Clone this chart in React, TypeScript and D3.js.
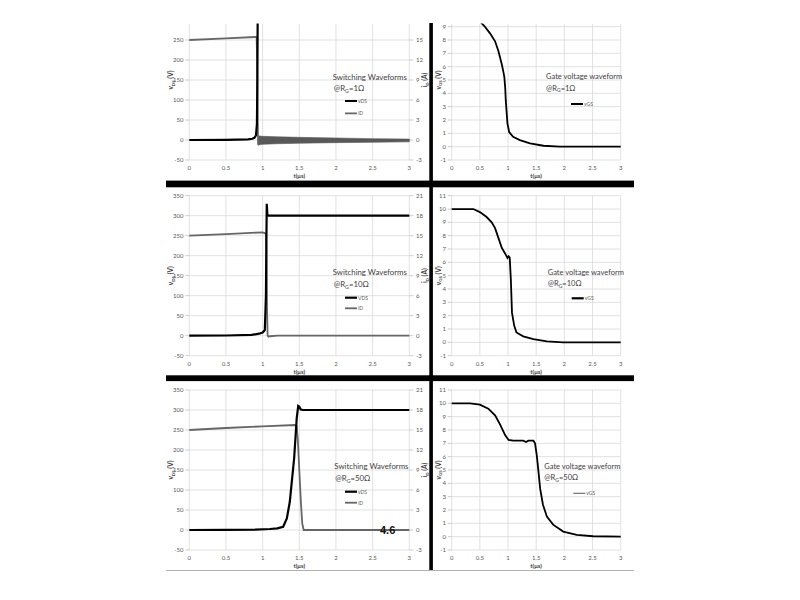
import React from 'react';
import * as d3 from 'd3';

type Pt = [number, number];

// time axis ticks (µs) and value ticks
const tTicks = [0, 0.5, 1, 1.5, 2, 2.5, 3];
const vdsTicks = [-50, 0, 50, 100, 150, 200, 250, 300, 350];
const idTicks = [-3, 0, 3, 6, 9, 12, 15, 18, 21];
const vgsTicks = [-1, 0, 1, 2, 3, 4, 5, 6, 7, 8, 9, 10, 11];

// R = 1 ohm
const vds1: Pt[] = [[0, 0], [0.5, 0.5], [0.8, 1.5], [0.86, 3], [0.89, 6], [0.91, 12], [0.922, 40], [0.928, 150], [0.933, 330], [0.94, 330], [1.0, 300], [3, 300]];
const id1: Pt[] = [[0, 15], [0.5, 15.25], [0.9, 15.45], [0.918, 15.5], [0.925, 12], [0.932, 4], [0.938, -0.7], [0.942, 0]];
const ring1T = [0.94, 0.96, 1.0, 1.2, 1.5, 2.0, 2.5, 3.0];
const ring1Hi = [0.65, 0.6, 0.55, 0.48, 0.4, 0.3, 0.2, 0.14];
const ring1Lo = [-0.8, -0.72, -0.65, -0.56, -0.48, -0.4, -0.34, -0.28];
const vgs1: Pt[] = [[0, 10], [0.3, 10], [0.45, 9.6], [0.58, 9.05], [0.68, 8.5], [0.77, 7.9], [0.83, 7.15], [0.89, 6.16], [0.92, 5.55], [0.935, 5.2], [0.95, 4.4], [0.96, 3.45], [0.99, 1.73], [1.02, 1.1], [1.09, 0.74], [1.21, 0.49], [1.39, 0.25], [1.63, 0.07], [1.92, 0], [3, 0]];

// R = 10 ohm
const vds2: Pt[] = [[0, 0], [0.5, 0.5], [0.85, 2], [0.95, 5], [1.0, 8], [1.03, 14], [1.045, 100], [1.052, 250], [1.056, 330], [1.06, 318], [1.065, 302], [1.08, 300], [3, 300]];
const id2: Pt[] = [[0, 15], [0.5, 15.25], [1.0, 15.5], [1.03, 15.4], [1.045, 15.2], [1.052, 13], [1.06, 4], [1.068, 0], [1.08, -0.15], [1.1, -0.08], [1.2, 0], [3, 0]];
const vgs2: Pt[] = [[0, 10], [0.385, 10], [0.5, 9.77], [0.62, 9.4], [0.71, 9.0], [0.77, 8.57], [0.83, 7.82], [0.89, 7.08], [0.95, 6.65], [0.99, 6.33], [1.01, 6.46], [1.03, 6.35], [1.05, 4.72], [1.07, 2.23], [1.11, 1.24], [1.15, 0.74], [1.27, 0.45], [1.45, 0.25], [1.69, 0.07], [1.98, 0], [3, 0]];

// R = 50 ohm
const vds3: Pt[] = [[0, 0], [0.5, 0.3], [0.9, 1], [1.1, 2.5], [1.2, 4], [1.28, 8], [1.33, 29], [1.37, 70], [1.43, 180], [1.465, 280], [1.485, 310], [1.5, 308], [1.52, 301], [1.55, 300], [3, 300]];
const id3: Pt[] = [[0, 15], [0.5, 15.3], [1.0, 15.55], [1.44, 15.75], [1.465, 15.6], [1.48, 13.5], [1.5, 9], [1.52, 4.5], [1.54, 1], [1.56, 0], [3, 0]];
const vgs3: Pt[] = [[0, 10], [0.33, 10], [0.5, 9.9], [0.65, 9.6], [0.77, 9.1], [0.86, 8.4], [0.95, 7.6], [1.01, 7.25], [1.09, 7.2], [1.27, 7.2], [1.32, 7.1], [1.36, 7.2], [1.45, 7.2], [1.48, 7.0], [1.51, 6.1], [1.54, 4.9], [1.57, 3.6], [1.62, 2.4], [1.69, 1.5], [1.8, 0.9], [1.98, 0.38], [2.22, 0.13], [2.51, 0.03], [3, 0]];

const rowTop = [0, 195.7, 390];
const rowBottom = [160, 355.7, 550];
const rowVisibleTop = [24, 0, 0];
const rLabels = ['1Ω', '10Ω', '50Ω'];
const vdsLegend = ['vDS', 'VDS', 'vDS'];

const FONT = 'Lato, "Open Sans", sans-serif';
const GRID = '#d9d9d9';
const TXT = '#595959';

interface Ring { t: number[]; hi: number[]; lo: number[] }

const SwitchPanel: React.FC<{ row: number; vds: Pt[]; id: Pt[]; ring?: Ring; legendY: number[]; titleX: number }> = ({ row, vds, id, ring, legendY, titleX }) => {
  const top = rowTop[row];
  const bottom = rowBottom[row];
  const vis = rowVisibleTop[row];
  const x = d3.scaleLinear().domain([0, 3]).range([189.3, 409.3]);
  const yL = d3.scaleLinear().domain([-50, 350]).range([bottom, top]);
  const yR = d3.scaleLinear().domain([-3, 21]).range([bottom, top]);
  const lineV = d3.line<Pt>().x(d => x(d[0])).y(d => yL(d[1]));
  const lineI = d3.line<Pt>().x(d => x(d[0])).y(d => yR(d[1]));
  const mid = (top + bottom) / 2;
  const area = ring
    ? d3.area<number>().x((_, i) => x(ring.t[i])).y0((_, i) => yR(ring.lo[i])).y1((_, i) => yR(ring.hi[i]))(ring.t)
    : null;
  return (
    <g fontFamily={FONT}>
      {tTicks.map(t => (
        <line key={'vx' + t} x1={x(t)} x2={x(t)} y1={Math.max(top, vis)} y2={bottom} stroke={GRID} strokeWidth={0.8} />
      ))}
      {vdsTicks.filter(v => yL(v) >= vis).map(v => (
        <line key={'hy' + v} x1={x(0)} x2={x(3)} y1={yL(v)} y2={yL(v)} stroke={GRID} strokeWidth={0.8} />
      ))}
      {vdsTicks.filter(v => yL(v) >= vis).map(v => (
        <g key={'ly' + v}>
          <line x1={x(0) - 4} x2={x(0)} y1={yL(v)} y2={yL(v)} stroke="#bfbfbf" strokeWidth={0.8} />
          <text x={183.5} y={yL(v) + 2} fontSize={6} fill={TXT} textAnchor="end">{v}</text>
        </g>
      ))}
      {idTicks.filter(v => yR(v) >= vis).map(v => (
        <g key={'ry' + v}>
          <line x1={x(3)} x2={x(3) + 4} y1={yR(v)} y2={yR(v)} stroke="#bfbfbf" strokeWidth={0.8} />
          <text x={416} y={yR(v) + 2} fontSize={6} fill={TXT}>{v}</text>
        </g>
      ))}
      {tTicks.map(t => (
        <text key={'tx' + t} x={x(t)} y={bottom + 10} fontSize={6} fill={TXT} textAnchor="middle">{t}</text>
      ))}
      <text x={x(1.5)} y={bottom + 18} fontSize={6} fontWeight="bold" fill="#404040" textAnchor="middle">t(μs)</text>
      <text transform={`translate(173,${mid}) rotate(-90)`} fontSize={6.5} fontWeight="bold" fill="#404040" textAnchor="middle">
        v<tspan fontSize={4.5} dy={1.5}>DS</tspan><tspan dy={-1.5}> (V)</tspan>
      </text>
      <text transform={`translate(427,${mid}) rotate(-90)`} fontSize={6.5} fontWeight="bold" fill="#404040" textAnchor="middle">
        i<tspan fontSize={4.5} dy={1.5}>D</tspan><tspan dy={-1.5}> (A)</tspan>
      </text>
      {area && <path d={area} fill="#595959" stroke="#595959" strokeWidth={0.6} />}
      <path d={lineI(id) ?? ''} fill="none" stroke="#666666" strokeWidth={1.8} />
      {ring && <path d={lineI(ring.t.map(t => [t, 0] as Pt)) ?? ''} fill="none" stroke="#595959" strokeWidth={1} />}
      <path d={lineV(vds) ?? ''} fill="none" stroke="#000" strokeWidth={2.2} />
      <text x={titleX} y={legendY[0]} fontSize={7.8} fill="#404040">Switching Waveforms</text>
      <text x={titleX + 1} y={legendY[1]} fontSize={7.8} fill="#404040">
        @R<tspan fontSize={5.2} dy={1.5}>G</tspan><tspan dy={-1.5}>={rLabels[row]}</tspan>
      </text>
      <line x1={345} x2={357} y1={legendY[2]} y2={legendY[2]} stroke="#000" strokeWidth={2.2} />
      <text x={358} y={legendY[2] + 1.8} fontSize={5} fill={TXT}>{vdsLegend[row]}</text>
      <line x1={345} x2={357} y1={legendY[3]} y2={legendY[3]} stroke="#666666" strokeWidth={1.8} />
      <text x={358} y={legendY[3] + 1.8} fontSize={5} fill={TXT}>iD</text>
    </g>
  );
};

const GatePanel: React.FC<{ row: number; vgs: Pt[]; legendY: number[]; titleX: number; lineX: number; thin?: boolean }> = ({ row, vgs, legendY, titleX, lineX, thin }) => {
  const top = rowTop[row];
  const bottom = rowBottom[row];
  const vis = rowVisibleTop[row];
  const x = d3.scaleLinear().domain([0, 3]).range([451.7, 620.7]);
  const y = d3.scaleLinear().domain([-1, 11]).range([bottom, top]);
  const line = d3.line<Pt>().x(d => x(d[0])).y(d => y(d[1]));
  const mid = (top + bottom) / 2;
  return (
    <g fontFamily={FONT}>
      {tTicks.map(t => (
        <line key={'vx' + t} x1={x(t)} x2={x(t)} y1={Math.max(top, vis)} y2={bottom} stroke={GRID} strokeWidth={0.8} />
      ))}
      {vgsTicks.filter(v => y(v) >= vis).map(v => (
        <line key={'hy' + v} x1={x(0)} x2={x(3)} y1={y(v)} y2={y(v)} stroke={GRID} strokeWidth={0.8} />
      ))}
      {vgsTicks.filter(v => y(v) >= vis).map(v => (
        <g key={'ly' + v}>
          <line x1={x(0) - 4} x2={x(0)} y1={y(v)} y2={y(v)} stroke="#bfbfbf" strokeWidth={0.8} />
          <text x={446} y={y(v) + 2} fontSize={6} fill={TXT} textAnchor="end">{v}</text>
        </g>
      ))}
      {tTicks.map(t => (
        <text key={'tx' + t} x={x(t)} y={bottom + 10} fontSize={6} fill={TXT} textAnchor="middle">{t}</text>
      ))}
      <text x={x(1.5)} y={bottom + 18} fontSize={6} fontWeight="bold" fill="#404040" textAnchor="middle">t(μs)</text>
      <text transform={`translate(440.5,${mid}) rotate(-90)`} fontSize={6.5} fontWeight="bold" fill="#404040" textAnchor="middle">
        v<tspan fontSize={4.5} dy={1.5}>GS</tspan><tspan dy={-1.5}> (V)</tspan>
      </text>
      <path d={line(vgs) ?? ''} fill="none" stroke="#000" strokeWidth={1.8} />
      <text x={titleX} y={legendY[0]} fontSize={7.5} fill="#404040">Gate voltage waveform</text>
      <text x={titleX} y={legendY[1]} fontSize={7.5} fill="#404040">
        @R<tspan fontSize={5} dy={1.5}>G</tspan><tspan dy={-1.5}>={rLabels[row]}</tspan>
      </text>
      <line x1={lineX} x2={lineX + 12} y1={legendY[2]} y2={legendY[2]} stroke={thin ? '#666' : '#000'} strokeWidth={thin ? 1.1 : 2.2} />
      <text x={lineX + 13} y={legendY[2] + 1.8} fontSize={5} fill={TXT}>vGS</text>
    </g>
  );
};

const App: React.FC = () => {
  return (
    <svg width={800} height={600} style={{ position: 'absolute', left: 0, top: 0, background: '#fff' }}>
      <defs>
        <clipPath id="row1clip">
          <rect x={0} y={23.5} width={800} height={160} />
        </clipPath>
      </defs>
      <rect width={800} height={600} fill="#fff" />
      <g clipPath="url(#row1clip)">
        <SwitchPanel row={0} vds={vds1} id={id1} ring={{ t: ring1T, hi: ring1Hi, lo: ring1Lo }} legendY={[79.5, 91.2, 101, 113.3]} titleX={332.7} />
        <GatePanel row={0} vgs={vgs1} legendY={[79, 90.7, 104]} titleX={546} lineX={571} />
      </g>
      <SwitchPanel row={1} vds={vds2} id={id2} legendY={[275.2, 287, 297.7, 308.3]} titleX={332.7} />
      <GatePanel row={1} vgs={vgs2} legendY={[275, 286.3, 298.3]} titleX={547.7} lineX={571.7} />
      <SwitchPanel row={2} vds={vds3} id={id3} legendY={[468.6, 481.2, 491.7, 502.7]} titleX={334.3} />
      <GatePanel row={2} vgs={vgs3} legendY={[468.6, 480.3, 493.3]} titleX={544.3} lineX={573.3} thin />
      <text x={380} y={534} fontSize={11} fontWeight="bold" fontFamily='"Liberation Sans", Arial, sans-serif' fill="#111">4.6</text>
      {/* separators */}
      <rect x={166} y={180.6} width={468} height={6.7} fill="#000" />
      <rect x={166} y={375.3} width={468} height={5.8} fill="#000" />
      <rect x={429.3} y={23} width={3.6} height={547} fill="#000" />
      <line x1={166} x2={634} y1={570.5} y2={570.5} stroke="#b0b0b0" strokeWidth={1} />
    </svg>
  );
};

export default App;
